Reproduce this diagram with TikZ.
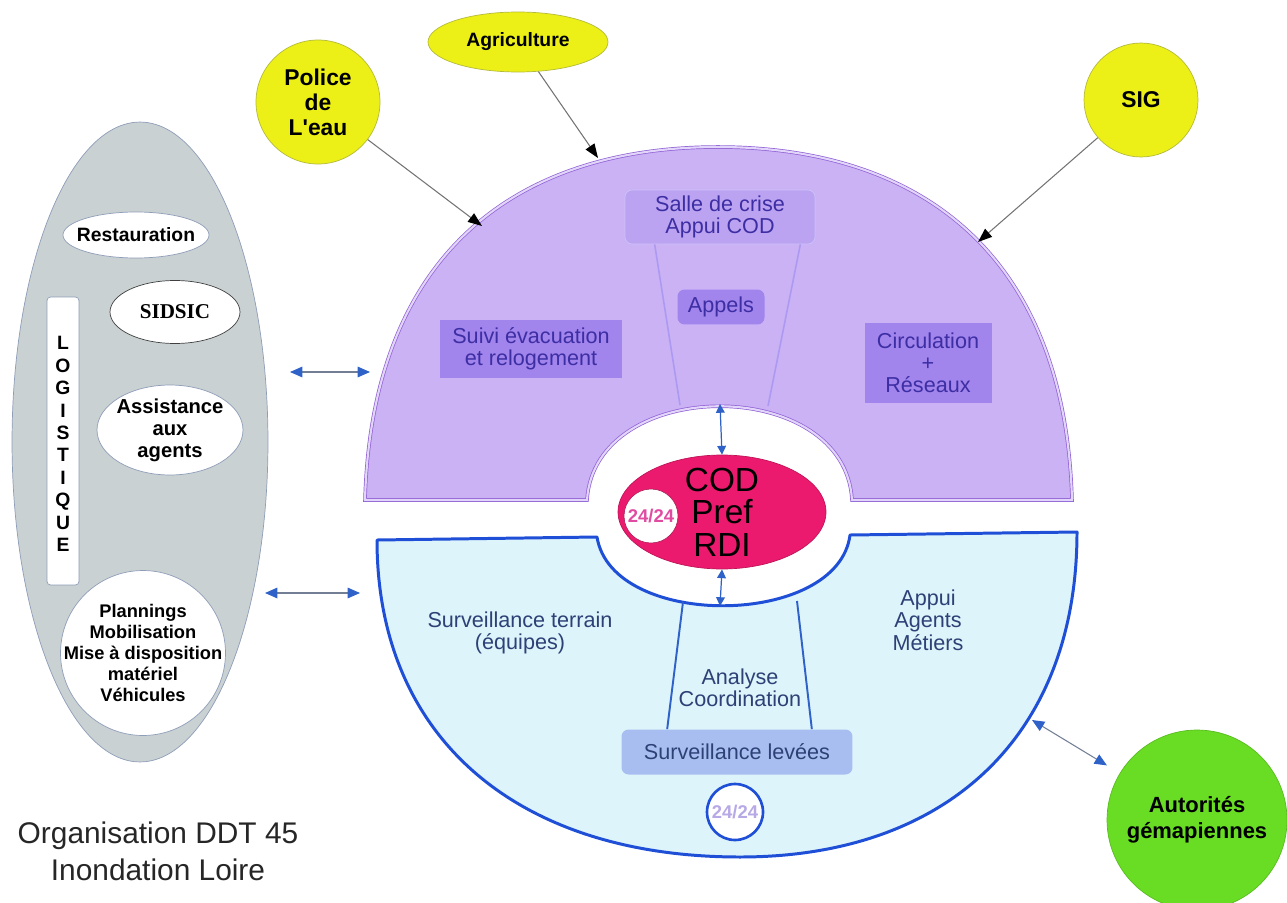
\documentclass[tikz,border=0pt]{standalone}
\usepackage{fontspec}
\setmainfont{Liberation Sans}
\newfontfamily\timesfont{Liberation Serif}
\newfontfamily\droit{Liberation Sans}
\usetikzlibrary{positioning,calc,arrows.meta,shapes.geometric}

\definecolor{jaune}{HTML}{EDF016}
\definecolor{jaunebord}{HTML}{B4BA3A}
\definecolor{vertgema}{HTML}{68DD24}
\definecolor{grisfond}{HTML}{C9D1D3}
\definecolor{grisbord}{HTML}{8E9DB8}
\definecolor{mauve}{HTML}{CAB2F5}
\definecolor{mauvebord}{HTML}{8F5FD4}
\definecolor{mauveclair}{HTML}{BBA3F1}
\definecolor{mauvetrait}{HTML}{AC9AF2}
\definecolor{mauvefonce}{HTML}{A184EC}
\definecolor{mauvetexte}{HTML}{3D2EA4}
\definecolor{ciel}{HTML}{DDF4FA}
\definecolor{bleu}{HTML}{1E4FD6}
\definecolor{bleutete}{HTML}{2F62C9}
\definecolor{bleutexte}{HTML}{2D4177}
\definecolor{levees}{HTML}{A9BEF0}
\definecolor{rose}{HTML}{EC1A6E}
\definecolor{rosetexte}{HTML}{E04CA2}
\definecolor{lavande}{HTML}{B7A8E6}

\begin{document}
\begin{tikzpicture}[x=0.02cm,y=-0.02cm,
  texte/.style={align=center, inner sep=1pt},
  gras/.style={texte, font=\bfseries\fontsize{11}{12.5}\selectfont},
  bulle/.style={ellipse, draw=grisbord, fill=white, inner sep=0pt},
  soleil/.style={draw=jaunebord, fill=jaune, inner sep=0pt, align=center, font=\bfseries\fontsize{13}{14.2}\selectfont},
  boite/.style={fill=mauvefonce, text=mauvetexte, inner sep=2pt, align=center, font=\fontsize{12.3}{12.6}\selectfont},
  bleutxt/.style={texte, text=bleutexte, font=\fontsize{12.3}{12.8}\selectfont},
  fleche/.style={draw=black!55, line width=0.6pt, -{Triangle[length=8pt,width=6pt,color=black]}},
  lien/.style={draw=grisbord!80!black, line width=0.6pt, {Triangle[length=7pt,width=6pt,color=bleutete]}-{Triangle[length=7pt,width=6pt,color=bleutete]}},
  court/.style={draw=bleutete, line width=0.7pt, {Triangle[length=5pt,width=5pt,color=bleutete]}-{Triangle[length=5pt,width=5pt,color=bleutete]}}
]
\useasboundingbox (0,0) rectangle (1287,902);

% logistique
\node[ellipse, draw=grisbord, fill=grisfond, minimum width=5.12cm, minimum height=12.8cm] (logi) at (140,442) {};
\node[bulle, minimum width=2.92cm, minimum height=0.92cm] (resto) at (136,235) {};
\node[gras] at (resto) {Restauration};
\node[bulle, draw=black!75, minimum width=2.6cm, minimum height=1.26cm] (sidsic) at (175,312) {};
\node[texte, font=\timesfont\bfseries\fontsize{12}{14}\selectfont] at (sidsic) {SIDSIC};
\node[bulle, minimum width=2.92cm, minimum height=1.8cm] (assist) at (170,430) {};
\node[gras, font=\bfseries\fontsize{11.5}{12.5}\selectfont] at (assist) {Assistance\\aux\\agents};
\node[draw=grisbord, fill=white, rounded corners=2pt, minimum width=0.64cm, minimum height=5.76cm] (barre) at (63,441) {};
\node[gras, font=\bfseries\fontsize{11}{12.75}\selectfont] at (63,444) {L\\O\\G\\I\\S\\T\\I\\Q\\U\\E};
\node[circle, draw=grisbord, fill=white, minimum size=3.3cm] (plan) at (143,653) {};
\node[gras, font=\bfseries\fontsize{10.4}{12}\selectfont] at (plan) {Plannings\\Mobilisation\\Mise à disposition\\matériel\\Véhicules};

% partenaires
\node[soleil, circle, minimum size=2.48cm] (police) at (318,102) {Police\\de\\L{\droit\bfseries '}eau};
\node[soleil, ellipse, minimum width=3.6cm, minimum height=1.2cm, font=\bfseries\fontsize{11}{13}\selectfont] (agri) at (518,42) {Agriculture};
\node[soleil, circle, minimum size=2.28cm] (sig) at (1141,100) {SIG};
\node[circle, fill=vertgema, draw=vertgema!85!black, minimum size=3.6cm, align=center, font=\bfseries\fontsize{12.5}{15}\selectfont] (gemapi) at (1197,820) {Autorités\\gémapiennes};

% demi-couronne haute
\draw[fill=mauve, draw=mauvebord, line width=0.4pt, double=mauve!55!white, double distance=1.2pt]
  (365,500) .. controls (372,250) and (520,147) .. (718,147)
  .. controls (916,147) and (1065,250) .. (1072,500)
  -- (852,500) .. controls (845,375) and (595,375) .. (587,500) -- cycle;
\node[boite, fill=mauveclair, draw=mauvetrait!60!white, rounded corners=4pt, minimum width=3.8cm, minimum height=1.08cm] (salle) at (720,217) {Salle de crise\\Appui COD};
\draw[mauvetrait, line width=0.9pt] ([xshift=0.6cm]salle.south west) -- (680,405);
\draw[mauvetrait, line width=0.9pt] ([xshift=-0.3cm]salle.south east) -- (768,406);
\node[boite, rounded corners=4pt, minimum width=1.74cm, minimum height=0.7cm] (appels) at (721,307) {Appels};
\node[boite, minimum width=3.64cm, minimum height=1.16cm] (suivi) at (531,349) {Suivi évacuation\\et relogement};
\node[boite, minimum width=2.54cm, minimum height=1.6cm] (circ) at (928,363) {Circulation\\+\\Réseaux};

% demi-couronne basse
\draw[fill=ciel, draw=bleu, line width=1.7pt, line join=round]
  (377,540) -- (597,537) .. controls (612,630) and (838,628) .. (850,535)
  -- (1077,532) .. controls (1077,734) and (949,857) .. (740,857)
  .. controls (515,857) and (377,736) .. cycle;
\node[fill=levees, rounded corners=4pt, minimum width=4.62cm, minimum height=0.9cm, text=bleutexte, font=\fontsize{12.3}{12.8}\selectfont] (levees) at (737,752) {Surveillance levées};
\draw[bleutete, line width=1.1pt] (683,602) -- ([xshift=0.92cm]levees.north west);
\draw[bleutete, line width=1.1pt] (797,601) -- ([xshift=-0.82cm]levees.north east);
\node[bleutxt] (terrain) at (520,633) {Surveillance terrain\\(équipes)};
\node[bleutxt] (metiers) at (928,620) {Appui\\Agents\\Métiers};
\node[bleutxt] (analyse) at (740,688) {Analyse\\Coordination};
\node[circle, fill=white, draw=bleu, line width=1.5pt, minimum size=1.12cm, inner sep=0pt, text=lavande, font=\bfseries\fontsize{10.5}{12}\selectfont] (veille) at (735,812) {24/24};

% COD
\node[ellipse, fill=rose, draw=rose!80!black, line width=0.4pt, minimum width=4.16cm, minimum height=2.28cm] (cod) at (722,512) {};
\node[texte, font=\fontsize{19}{18.5}\selectfont] at (cod) {COD\\Pref\\RDI};
\node[circle, fill=white, draw=rose!70!black, line width=0.3pt, minimum size=1.08cm, inner sep=0pt, text=rosetexte, font=\bfseries\fontsize{10.5}{12}\selectfont] (h24) at (651,516) {24/24};

% liaisons
\coordinate (pa) at (482,226);
\coordinate (pb) at (598,158);
\coordinate (pc) at (978,242);
\draw[fleche] (police) -- (pa);
\draw[fleche] (agri) -- (pb);
\draw[fleche] (sig) -- (pc);
\coordinate (g1) at (290,372);
\coordinate (d1) at (370,372);
\coordinate (g2) at (265,593);
\coordinate (d2) at (360,593);
\draw[lien] (g1) -- (d1);
\draw[lien] (g2) -- (d2);
\coordinate (pv) at (1032,720);
\draw[lien, shorten >=0.3cm] (pv) -- (gemapi);
\coordinate (haut) at (720,404);
\coordinate (bas) at (720,606);
\draw[court] (haut) -- (cod.north);
\draw[court] (cod.south) -- (bas);

% titre
\node[texte, text=black!85, font=\fontsize{17}{21}\selectfont] (titre) at (158,851) {Organisation DDT 45\\Inondation Loire};
\end{tikzpicture}
\end{document}
